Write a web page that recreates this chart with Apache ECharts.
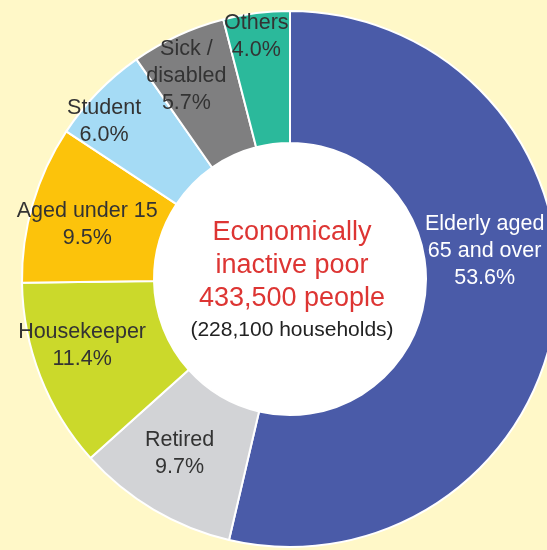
<!DOCTYPE html>
<html>
<head>
<meta charset="utf-8">
<script src="https://cdn.jsdelivr.net/npm/echarts@6/dist/echarts.min.js"></script>
<style>
html,body{margin:0;padding:0;background:#fff8c8;}
#chart{width:547px;height:550px;}
</style>
</head>
<body>
<div id="chart"></div>
<script>
// Data
var categories = ['Elderly aged\n65 and over', 'Retired', 'Housekeeper', 'Aged under 15', 'Student', 'Sick /\ndisabled', 'Others'];
var shares = [53.6, 9.7, 11.4, 9.5, 6.0, 5.7, 4.0];
var centerLines = ['Economically', 'inactive poor', '433,500 people', '(228,100 households)'];

// Styles
var colors = ['#4a5ba8', '#d2d3d6', '#cbd92b', '#fcc30b', '#a5dbf5', '#7f7f80', '#2bb99b'];
var labelColors = ['#ffffff', '#333333', '#333333', '#333333', '#333333', '#333333', '#333333'];
var labelOffsets = [[-9, -51], [-6, -2], [-17, -8], [-6, 3], [-39, -14], [-18, -17], [-8, -39]];

var chart = echarts.init(document.getElementById('chart'), null, {renderer: 'canvas'});

var seriesData = categories.map(function (c, i) {
  return {
    name: c,
    value: shares[i],
    itemStyle: {color: colors[i]},
    label: {color: labelColors[i]}
  };
});

chart.setOption({
  backgroundColor: '#fff8c8',
  animation: false,
  title: {
    text: '{r|' + centerLines[0] + '}\n{r|' + centerLines[1] + '}\n{r|' + centerLines[2] + '}\n{k|' + centerLines[3] + '}',
    left: 287,
    top: 211,
    textAlign: 'center',
    textStyle: {
      fontWeight: 'normal',
      rich: {
        r: {fontFamily: 'Liberation Sans', fontSize: 27, fontWeight: 'normal', color: '#dd3533', lineHeight: 33, align: 'center'},
        k: {fontFamily: 'Liberation Sans', fontSize: 21, fontWeight: 'normal', color: '#222222', lineHeight: 31, align: 'center'}
      }
    }
  },
  series: [{
    type: 'pie',
    center: [290, 279],
    radius: [0, 136],
    silent: true,
    z: 1,
    label: {show: false},
    labelLine: {show: false},
    itemStyle: {color: '#ffffff'},
    data: [{name: 'center', value: 1}]
  }, {
    type: 'pie',
    center: [290, 279],
    radius: [136, 268],
    startAngle: 90,
    clockwise: true,
    silent: true,
    z: 2,
    itemStyle: {borderColor: '#ffffff', borderWidth: 2},
    label: {
      show: true,
      position: 'inside',
      fontFamily: 'Liberation Sans',
      fontSize: 21.5,
      lineHeight: 27,
      align: 'center',
      formatter: function (p) {
        return p.name + '\n' + p.value.toFixed(1) + '%';
      }
    },
    labelLine: {show: false},
    labelLayout: function (params) {
      var o = labelOffsets[params.dataIndex];
      return {dx: o[0], dy: o[1]};
    },
    data: seriesData
  }]
});
</script>
</body>
</html>
